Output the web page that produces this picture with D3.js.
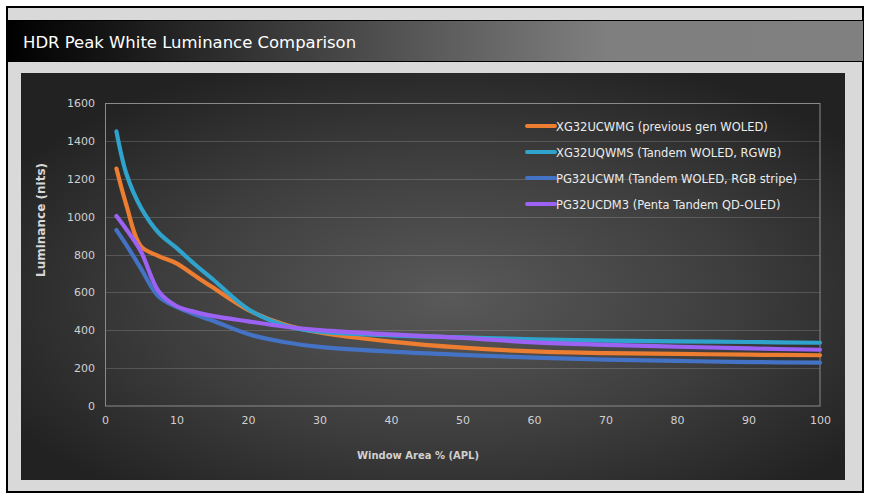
<!DOCTYPE html>
<html><head><meta charset="utf-8">
<script src="https://cdn.jsdelivr.net/npm/d3@7/dist/d3.min.js"></script>
<style>html,body{margin:0;padding:0;background:#fff;} svg{display:block;font-family:"DejaVu Sans",sans-serif;}</style>
</head><body>
<svg id="c" width="871" height="495"></svg>
<script>
const windowArea = [1.6, 3, 5, 7.5, 10, 12.5, 15, 20, 25, 30, 40, 50, 60, 70, 80, 90, 100];
const seriesNames = [
  "XG32UCWMG (previous gen WOLED)",
  "XG32UQWMS (Tandem WOLED, RGWB)",
  "PG32UCWM (Tandem WOLED, RGB stripe)",
  "PG32UCDM3 (Penta Tandem QD-OLED)"
];
const xg32ucwmg = [1254, 1060, 845, 792, 753, 690, 628, 508, 432, 388, 340, 308, 288, 279, 275, 271, 268];
const xg32uqwms = [1450, 1225, 1050, 915, 835, 750, 672, 512, 427, 392, 373, 362, 352, 345, 341, 338, 334];
const pg32ucwm  = [929, 850, 728, 578, 523, 484, 452, 380, 338, 312, 287, 270, 255, 245, 238, 232, 229];
const pg32ucdm3 = [1003, 932, 818, 606, 528, 497, 476, 447, 420, 401, 378, 360, 336, 323, 313, 304, 297];
const seriesValues = [xg32ucwmg, xg32uqwms, pg32ucwm, pg32ucdm3];
const colors = ["#ED7D31", "#2FA3CC", "#4472C4", "#9B62F4"];
const yTicks = [0, 200, 400, 600, 800, 1000, 1200, 1400, 1600];
const xTicks = [0, 10, 20, 30, 40, 50, 60, 70, 80, 90, 100];
const titleText = "HDR Peak White Luminance Comparison";
const yTitle = "Luminance (nits)";
const xTitle = "Window Area % (APL)";

const svg = d3.select("#c");
const defs = svg.append("defs");
const tg = defs.append("linearGradient").attr("id","tg").attr("x1","0").attr("x2","1").attr("y1","0").attr("y2","0");
tg.append("stop").attr("offset","0").attr("stop-color","#000");
tg.append("stop").attr("offset","0.7").attr("stop-color","#7f7f7f");
tg.append("stop").attr("offset","1").attr("stop-color","#808080");
const rg = defs.append("radialGradient").attr("id","rg").attr("cx","0.52").attr("cy","0.55").attr("r","0.62")
  .attr("gradientUnits","objectBoundingBox");
rg.append("stop").attr("offset","0").attr("stop-color","#595959");
rg.append("stop").attr("offset","0.55").attr("stop-color","#3e3e3e");
rg.append("stop").attr("offset","1").attr("stop-color","#222");

function fit(sel, w){
  const n = sel.node(); let fs = parseFloat(sel.attr("font-size"));
  for (let i=0;i<3;i++){ const l = n.getComputedTextLength(); fs *= w/l; sel.attr("font-size", fs); }
}

// outer frame
svg.append("rect").attr("x",7).attr("y",7).attr("width",856).attr("height",485)
  .attr("fill","#d9d9d9").attr("stroke","#000").attr("stroke-width",2);
// title bar
svg.append("rect").attr("x",7).attr("y",20).attr("width",856).attr("height",41)
  .attr("fill","url(#tg)");
svg.append("line").attr("x1",7).attr("x2",863).attr("y1",20.5).attr("y2",20.5).attr("stroke","#000");
svg.append("line").attr("x1",7).attr("x2",863).attr("y1",61.5).attr("y2",61.5).attr("stroke","#000");
const tt = svg.append("text").attr("x",23).attr("y",48).attr("fill","#fff").attr("font-size",18).text(titleText);
fit(tt, 333);

// chart area
svg.append("rect").attr("x",21).attr("y",73).attr("width",824).attr("height",407).attr("fill","url(#rg)");

const x = d3.scaleLinear().domain([0,100]).range([105,820]);
const y = d3.scaleLinear().domain([0,1600]).range([406,103]);

// gridlines
svg.append("g").selectAll("line").data(yTicks.slice(1,-1)).join("line")
  .attr("x1",105).attr("x2",820).attr("y1",d=>Math.round(y(d))+0.5).attr("y2",d=>Math.round(y(d))+0.5)
  .attr("stroke","rgba(255,255,255,0.16)");
// frame
svg.append("rect").attr("x",105.5).attr("y",103.5).attr("width",714.5).attr("height",302.5)
  .attr("fill","none").attr("stroke","#8a8a8a");

// axes
const yAxis = svg.append("g").attr("transform","translate(105,0)")
  .call(d3.axisLeft(y).tickValues(yTicks).tickFormat(d3.format("d")).tickSize(0).tickPadding(10));
yAxis.select(".domain").remove();
yAxis.selectAll("text").attr("fill","#d0d0d0").attr("font-size",11).attr("font-family","DejaVu Sans");
const xAxis = svg.append("g").attr("transform","translate(0,406)")
  .call(d3.axisBottom(x).tickValues(xTicks).tickFormat(d3.format("d")).tickSize(0).tickPadding(10));
xAxis.select(".domain").remove();
xAxis.selectAll("text").attr("fill","#d0d0d0").attr("font-size",11).attr("font-family","DejaVu Sans");

// axis titles
const yt = svg.append("text").attr("transform","translate(45,220) rotate(-90)").attr("text-anchor","middle")
  .attr("fill","#d8d8d8").attr("font-weight","bold").attr("font-size",11).text(yTitle);
fit(yt, 114);
const xt = svg.append("text").attr("x",418).attr("y",459).attr("text-anchor","middle")
  .attr("fill","#d0d0d0").attr("font-weight","bold").attr("font-size",11).text(xTitle);
fit(xt, 122);

// lines
const line = d3.line().x((d,i)=>x(windowArea[i])).y(d=>y(d)).curve(d3.curveCatmullRom.alpha(0.5));
svg.append("g").selectAll("path").data(seriesValues).join("path")
  .attr("d", d=>line(d)).attr("fill","none").attr("stroke",(d,i)=>colors[i])
  .attr("stroke-width",4.2).attr("stroke-linecap","round").attr("stroke-linejoin","round");

// legend
const lg = svg.append("g");
seriesNames.forEach((n,i)=>{
  const yy = 126 + i*26;
  lg.append("line").attr("x1",527).attr("x2",555).attr("y1",yy).attr("y2",yy)
    .attr("stroke",colors[i]).attr("stroke-width",4).attr("stroke-linecap","round");
  const t = lg.append("text").attr("x",556).attr("y",yy+4.5).attr("fill","#ececec").attr("font-size",12).text(n);
  if (i===0) fit(t, 212);
  else t.attr("font-size", lg.select("text").attr("font-size"));
});
</script>
</body></html>
